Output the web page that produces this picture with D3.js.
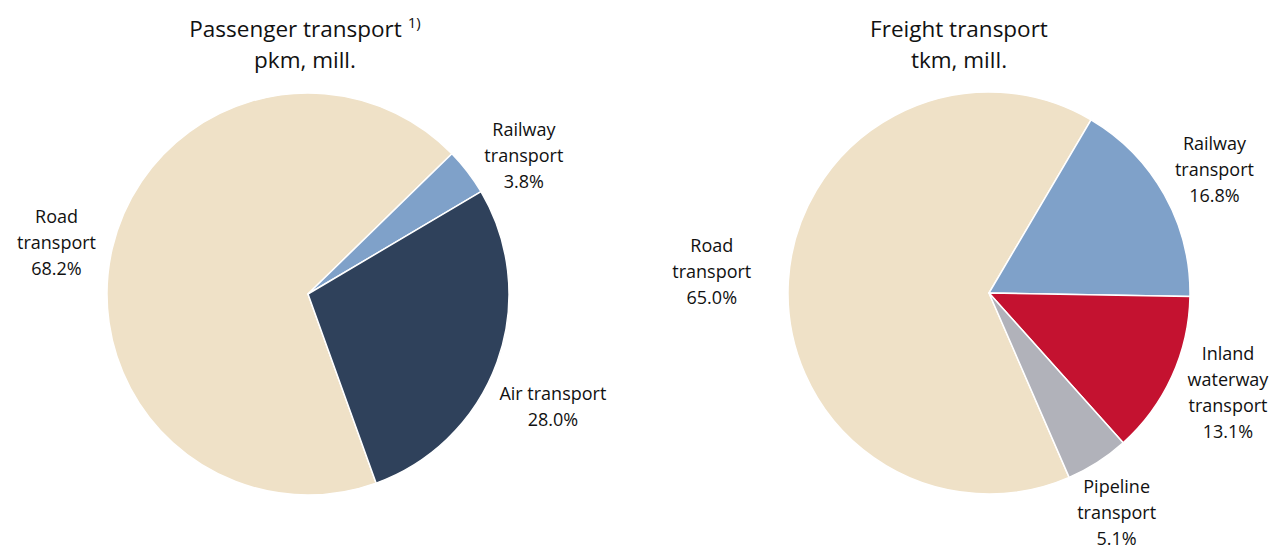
<!DOCTYPE html>
<html>
<head>
<meta charset="utf-8">
<script src="https://cdn.jsdelivr.net/npm/d3@7"></script>
<style>
  html, body { margin: 0; padding: 0; background: #ffffff; }
  svg text { font-family: "Open Sans", "DejaVu Sans", sans-serif; fill: #111111; }
</style>
</head>
<body>
<div id="chart"></div>
<script>
// data
const passengerModes = ["Road transport", "Railway transport", "Air transport"];
const passengerShares = [68.2, 3.8, 28.0];

const freightModes = ["Road transport", "Railway transport", "Inland waterway transport", "Pipeline transport"];
const freightShares = [65.0, 16.8, 13.1, 5.1];

// label line breaks
const labelLines = {
  "Road transport": ["Road", "transport"],
  "Railway transport": ["Railway", "transport"],
  "Air transport": ["Air transport"],
  "Inland waterway transport": ["Inland", "waterway", "transport"],
  "Pipeline transport": ["Pipeline", "transport"],
};

const colorMap = {
  "Road transport": "#efe1c7",
  "Railway transport": "#7fa1c9",
  "Air transport": "#2f415b",
  "Inland waterway transport": "#c41230",
  "Pipeline transport": "#b1b2ba",
};

const width = 1272;
const height = 550;

const svg = d3.select("#chart").append("svg")
  .attr("width", width)
  .attr("height", height);

const fmt = d3.format(".1f");
const lineH = 26;

// layout for each pie (startAngle in degrees clockwise from 12 o'clock)
const charts = [
  {
    modes: passengerModes, values: passengerShares,
    cx: 308, cy: 294, r: 201, start: 160.2,
    title: "Passenger transport", sup: "1)", sub: "pkm, mill.", tx: 305,
    nudge: { "Road transport": [0, 6], "Railway transport": [5, 23], "Air transport": [-13, 20] },
  },
  {
    modes: freightModes, values: freightShares,
    cx: 989, cy: 293, r: 201, start: 156.5,
    title: "Freight transport", sup: null, sub: "tkm, mill.", tx: 959,
    nudge: { "Road transport": [-25, -6], "Railway transport": [-5, 6], "Inland waterway transport": [-5, -12], "Pipeline transport": [-15, -3] },
  },
];

const drawPie = (c) => {
  const data = c.modes.map((m, i) => ({ mode: m, value: c.values[i] }));
  const startRad = (c.start * Math.PI) / 180;

  const pie = d3.pie()
    .value((d) => d.value)
    .sort(null)
    .startAngle(startRad)
    .endAngle(startRad + 2 * Math.PI);

  const arc = d3.arc().innerRadius(0).outerRadius(c.r);

  const g = svg.append("g").attr("transform", `translate(${c.cx},${c.cy})`);

  const arcs = pie(data);

  g.selectAll("path")
    .data(arcs)
    .enter()
    .append("path")
    .attr("d", arc)
    .attr("fill", (d) => colorMap[d.data.mode])
    .attr("stroke", "#ffffff")
    .attr("stroke-width", 1.5)
    .attr("stroke-linejoin", "round");

  // labels outside, box pushed away from pie edge
  arcs.forEach((d) => {
    const lines = labelLines[d.data.mode].concat([fmt(d.data.value) + "%"]);
    const mid = (d.startAngle + d.endAngle) / 2;
    const dx = Math.sin(mid);
    const dy = -Math.cos(mid);
    const longest = d3.max(lines, (l) => l.length);
    const hw = longest * 4.6;
    const hh = (lines.length * lineH) / 2;
    const dist = c.r + 8 + Math.abs(dx) * hw + Math.abs(dy) * hh;
    const nd = c.nudge[d.data.mode] || [0, 0];
    const lx = dx * dist + nd[0];
    const ly = dy * dist + nd[1];

    const t = g.append("text")
      .attr("text-anchor", "middle")
      .style("font-size", "18px");
    lines.forEach((l, i) => {
      t.append("tspan")
        .attr("x", lx)
        .attr("y", ly + (i - (lines.length - 1) / 2) * lineH + 6.5)
        .text(l);
    });
  });

  // titles
  const title = svg.append("text")
    .attr("x", c.tx)
    .attr("y", 37)
    .attr("text-anchor", "middle")
    .style("font-size", "22.5px")
    .text(c.title);
  if (c.sup) {
    title.append("tspan").text(" ");
    title.append("tspan")
      .attr("dy", -9)
      .style("font-size", "15px")
      .text(c.sup);
  }

  svg.append("text")
    .attr("x", c.tx)
    .attr("y", 68)
    .attr("text-anchor", "middle")
    .style("font-size", "22.5px")
    .text(c.sub);
};

charts.forEach(drawPie);
</script>
</body>
</html>
